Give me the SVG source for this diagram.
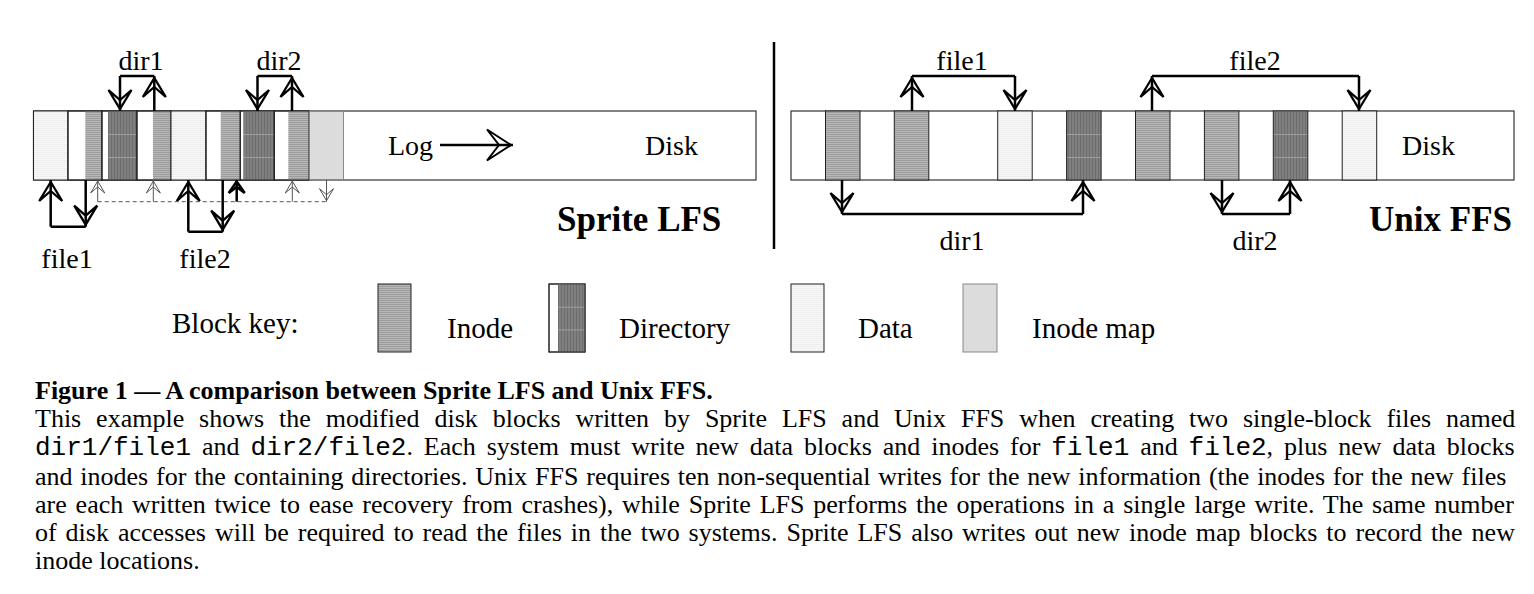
<svg xmlns="http://www.w3.org/2000/svg" width="1534" height="594" viewBox="0 0 1534 594">
<style>
.lbl{font-family:"Liberation Serif","Times New Roman",serif;font-size:28px;fill:#000}
.key{font-family:"Liberation Serif","Times New Roman",serif;font-size:29px;fill:#000}
.big{font-family:"Liberation Serif","Times New Roman",serif;font-size:35px;font-weight:bold;fill:#000}
.cap{font-family:"Liberation Serif","Times New Roman",serif;font-size:26px;fill:#000}
.mono{font-family:"Liberation Mono","Courier New",monospace}
.bar{fill:#fff;stroke:#333;stroke-width:1.2}
.ol{fill:none;stroke:#222;stroke-width:1}
.wb{fill:#fff;stroke:#222;stroke-width:1}
.ino{fill:url(#pInode)}
.dir{fill:url(#pDir)}
.dat{fill:url(#pData)}
.imap{fill:#dcdcdc;stroke:#888;stroke-width:1}
.arr{stroke:#000;stroke-width:2.5;fill:none}
.thin{stroke:#555;stroke-width:1;fill:none}
.dash{stroke:#555;stroke-width:1;stroke-dasharray:4 3;fill:none}
</style>
<defs>
<pattern id="pInode" width="4" height="2" patternUnits="userSpaceOnUse"><rect width="4" height="2" fill="#b8b8b8"/><rect width="4" height="1" fill="#9c9c9c"/></pattern>
<pattern id="pDir" width="3" height="23" y="111" patternUnits="userSpaceOnUse"><rect width="3" height="23" fill="#808080"/><rect width="1" height="23" fill="#6c6c6c"/><rect width="3" height="1" fill="#9e9e9e"/></pattern>
<pattern id="pDirK" width="3" height="22.7" y="284" patternUnits="userSpaceOnUse"><rect width="3" height="23" fill="#808080"/><rect width="1" height="23" fill="#6c6c6c"/><rect width="3" height="1" fill="#9e9e9e"/></pattern>
<pattern id="pData" width="4" height="2" patternUnits="userSpaceOnUse"><rect width="4" height="2" fill="#f8f8f8"/><rect width="4" height="1" fill="#ededed"/></pattern>
<marker id="ah" markerUnits="userSpaceOnUse" orient="auto" viewBox="-30 -15 32 30" markerWidth="32" markerHeight="30" refX="0" refY="0"><path d="M-2,0 L-21,-11.5 L-11,0 L-21,11.5 Z" fill="none" stroke="#000" stroke-width="2.3"/></marker>
<marker id="ahs" markerUnits="userSpaceOnUse" orient="auto" viewBox="-20 -10 22 20" markerWidth="22" markerHeight="20" refX="0" refY="0"><path d="M-1,0 L-13,-7 L-7,0 L-13,7 Z" fill="none" stroke="#555" stroke-width="1"/></marker>
<marker id="ahb" markerUnits="userSpaceOnUse" orient="auto" viewBox="-20 -12 22 24" markerWidth="22" markerHeight="24" refX="0" refY="0"><path d="M-1.5,0 L-13,-8 L-7,0 L-13,8 Z" fill="none" stroke="#000" stroke-width="2.5"/></marker>
<marker id="ahl" markerUnits="userSpaceOnUse" orient="auto" viewBox="-34 -20 36 40" markerWidth="36" markerHeight="40" refX="0" refY="0"><path d="M-2,0 L-26,-15.5 L-14,0 L-26,15.5 Z" fill="none" stroke="#000" stroke-width="2"/></marker>
</defs>
<rect width="1534" height="594" fill="#fff"/>

<g id="lfs">
<rect class="bar" x="33.5" y="111" width="722.5" height="69"/>
<g id="lfs-data1"><rect class="dat" x="33.5" y="111" width="34.5" height="69"/><rect class="ol" x="33.5" y="111" width="34.5" height="69"/></g>
<g id="lfs-inode1"><rect class="wb" x="68" y="111" width="34" height="69"/><rect class="ino" x="85.3" y="111.5" width="16.7" height="68"/><rect class="ol" x="68" y="111" width="34" height="69"/></g>
<g id="lfs-dir1"><rect class="wb" x="102" y="111" width="35" height="69"/><rect class="dir" x="108" y="111.5" width="29" height="68"/><rect class="ol" x="102" y="111" width="35" height="69"/></g>
<g id="lfs-inodedir1"><rect class="wb" x="137" y="111" width="34" height="69"/><rect class="ino" x="153" y="111.5" width="18" height="68"/><rect class="ol" x="137" y="111" width="34" height="69"/></g>
<g id="lfs-data2"><rect class="dat" x="171" y="111" width="35" height="69"/><rect class="ol" x="171" y="111" width="35" height="69"/></g>
<g id="lfs-inode2"><rect class="wb" x="206" y="111" width="34.3" height="69"/><rect class="ino" x="220.7" y="111.5" width="19.6" height="68"/><rect class="ol" x="206" y="111" width="34.3" height="69"/></g>
<g id="lfs-dir2"><rect class="wb" x="240.3" y="111" width="34" height="69"/><rect class="dir" x="243.3" y="111.5" width="31" height="68"/><rect class="ol" x="240.3" y="111" width="34" height="69"/></g>
<g id="lfs-inodedir2"><rect class="wb" x="274.3" y="111" width="34.7" height="69"/><rect class="ino" x="288.3" y="111.5" width="20.7" height="68"/><rect class="ol" x="274.3" y="111" width="34.7" height="69"/></g>
<g id="lfs-imap"><rect class="imap" x="309.5" y="111.5" width="34" height="68"/></g>
<text class="lbl" x="388" y="155">Log</text>
<text class="lbl" x="645" y="155">Disk</text>
<text class="big" x="557" y="231">Sprite LFS</text>
<text class="lbl" x="141" y="70" text-anchor="middle">dir1</text>
<text class="lbl" x="279" y="70" text-anchor="middle">dir2</text>
<text class="lbl" x="67" y="268" text-anchor="middle">file1</text>
<text class="lbl" x="205" y="268" text-anchor="middle">file2</text>
</g>

<g id="ffs">
<rect class="bar" x="791" y="111" width="723" height="69"/>
<g id="ffs-inode-a"><rect class="ino" x="825.5" y="111" width="34.5" height="69"/><rect class="ol" x="825.5" y="111" width="34.5" height="69"/></g>
<g id="ffs-inode-b"><rect class="ino" x="894.3" y="111" width="34.5" height="69"/><rect class="ol" x="894.3" y="111" width="34.5" height="69"/></g>
<g id="ffs-data1"><rect class="dat" x="997.7" y="111" width="34.5" height="69"/><rect class="ol" x="997.7" y="111" width="34.5" height="69"/></g>
<g id="ffs-dir1"><rect class="dir" x="1066.6" y="111" width="34.5" height="69"/><rect class="ol" x="1066.6" y="111" width="34.5" height="69"/></g>
<g id="ffs-inode-c"><rect class="ino" x="1135.5" y="111" width="34.5" height="69"/><rect class="ol" x="1135.5" y="111" width="34.5" height="69"/></g>
<g id="ffs-inode-d"><rect class="ino" x="1204.4" y="111" width="34.5" height="69"/><rect class="ol" x="1204.4" y="111" width="34.5" height="69"/></g>
<g id="ffs-dir2"><rect class="dir" x="1273.3" y="111" width="34.5" height="69"/><rect class="ol" x="1273.3" y="111" width="34.5" height="69"/></g>
<g id="ffs-data2"><rect class="dat" x="1342.2" y="111" width="34.5" height="69"/><rect class="ol" x="1342.2" y="111" width="34.5" height="69"/></g>
<text class="lbl" x="1402" y="155">Disk</text>
<text class="big" x="1512" y="231" text-anchor="end">Unix FFS</text>
<text class="lbl" x="962" y="70" text-anchor="middle">file1</text>
<text class="lbl" x="1255" y="70" text-anchor="middle">file2</text>
<text class="lbl" x="962" y="250" text-anchor="middle">dir1</text>
<text class="lbl" x="1255" y="250" text-anchor="middle">dir2</text>
</g>

<g id="connectors">
<line class="arr" x1="440" y1="145" x2="513" y2="145" stroke-width="2" marker-end="url(#ahl)"/>
<line class="arr" x1="120" y1="76" x2="154.3" y2="76"/>
<line class="arr" x1="120" y1="76" x2="120" y2="111" marker-end="url(#ah)"/>
<line class="arr" x1="154.3" y1="111" x2="154.3" y2="76" marker-end="url(#ah)"/>
<line class="arr" x1="257.5" y1="76" x2="292" y2="76"/>
<line class="arr" x1="257.5" y1="76" x2="257.5" y2="111" marker-end="url(#ah)"/>
<line class="arr" x1="292" y1="111" x2="292" y2="76" marker-end="url(#ah)"/>
<line class="arr" x1="50.7" y1="226.7" x2="85.7" y2="226.7"/>
<line class="arr" x1="50.7" y1="226.7" x2="50.7" y2="180" marker-end="url(#ah)"/>
<line class="arr" x1="85.7" y1="180" x2="85.7" y2="226.7" marker-end="url(#ah)"/>
<line class="arr" x1="188.3" y1="231.7" x2="222.7" y2="231.7"/>
<line class="arr" x1="188.3" y1="231.7" x2="188.3" y2="180" marker-end="url(#ah)"/>
<line class="arr" x1="222.7" y1="180" x2="222.7" y2="231.7" marker-end="url(#ah)"/>
<line class="dash" x1="97.7" y1="201.7" x2="326.5" y2="201.7"/>
<line class="thin" x1="97.7" y1="201.7" x2="97.7" y2="180" marker-end="url(#ahs)"/>
<line class="thin" x1="153.3" y1="201.7" x2="153.3" y2="180" marker-end="url(#ahs)"/>
<line class="thin" x1="292.3" y1="201.7" x2="292.3" y2="180" marker-end="url(#ahs)"/>
<line class="thin" x1="326.5" y1="180" x2="326.5" y2="201.7" marker-end="url(#ahs)"/>
<line class="arr" x1="236.7" y1="201.7" x2="236.7" y2="180" marker-end="url(#ahb)"/>
<line class="arr" x1="912" y1="76" x2="1015" y2="76"/>
<line class="arr" x1="912" y1="111" x2="912" y2="76" marker-end="url(#ah)"/>
<line class="arr" x1="1015" y1="76" x2="1015" y2="111" marker-end="url(#ah)"/>
<line class="arr" x1="1152" y1="76" x2="1359" y2="76"/>
<line class="arr" x1="1152" y1="111" x2="1152" y2="76" marker-end="url(#ah)"/>
<line class="arr" x1="1359" y1="76" x2="1359" y2="111" marker-end="url(#ah)"/>
<line class="arr" x1="842" y1="214" x2="1083" y2="214"/>
<line class="arr" x1="842" y1="180" x2="842" y2="214" marker-end="url(#ah)"/>
<line class="arr" x1="1083" y1="214" x2="1083" y2="180" marker-end="url(#ah)"/>
<line class="arr" x1="1222" y1="214" x2="1290" y2="214"/>
<line class="arr" x1="1222" y1="180" x2="1222" y2="214" marker-end="url(#ah)"/>
<line class="arr" x1="1290" y1="214" x2="1290" y2="180" marker-end="url(#ah)"/>
</g>

<line id="separator" x1="774" y1="42" x2="774" y2="249" stroke="#000" stroke-width="2.5"/>

<g id="block-key">
<text class="key" x="172" y="333">Block key:</text>
<g id="key-inode"><rect class="ino" x="378" y="284" width="33" height="68"/><rect class="ol" x="378" y="284" width="33" height="68" stroke="#555"/><text class="key" x="447" y="338">Inode</text></g>
<g id="key-dir"><rect class="wb" x="549" y="284" width="36" height="68"/><rect class="dir" x="558" y="284" width="27" height="68" style="fill:url(#pDirK)"/><rect class="ol" x="549" y="284" width="36" height="68"/><text class="key" x="619" y="338">Directory</text></g>
<g id="key-data"><rect class="dat" x="791" y="284" width="33" height="68"/><rect class="ol" x="791" y="284" width="33" height="68" stroke="#555"/><text class="key" x="858" y="338">Data</text></g>
<g id="key-imap"><rect class="imap" x="963" y="284" width="34" height="68"/><text class="key" x="1032" y="338">Inode map</text></g>
</g>

<g id="caption">
<text class="cap" x="35" y="399" font-weight="bold">Figure 1 — A comparison between Sprite LFS and Unix FFS.</text>
<text class="cap" x="35" y="427" word-spacing="8.4">This example shows the modified disk blocks written by Sprite LFS and Unix FFS when creating two single-block files named</text>
<text class="cap" x="35" y="455" word-spacing="4.4"><tspan class="mono">dir1/file1</tspan> and <tspan class="mono">dir2/file2</tspan>. Each system must write new data blocks and inodes for <tspan class="mono">file1</tspan> and <tspan class="mono">file2</tspan>, plus new data blocks</text>
<text class="cap" x="35" y="485" word-spacing="1.3">and inodes for the containing directories. Unix FFS requires ten non-sequential writes for the new information (the inodes for the new files</text>
<text class="cap" x="35" y="513" word-spacing="2.35">are each written twice to ease recovery from crashes), while Sprite LFS performs the operations in a single large write. The same number</text>
<text class="cap" x="35" y="541" word-spacing="2.46">of disk accesses will be required to read the files in the two systems. Sprite LFS also writes out new inode map blocks to record the new</text>
<text class="cap" x="35" y="569">inode locations.</text>
</g>
</svg>
